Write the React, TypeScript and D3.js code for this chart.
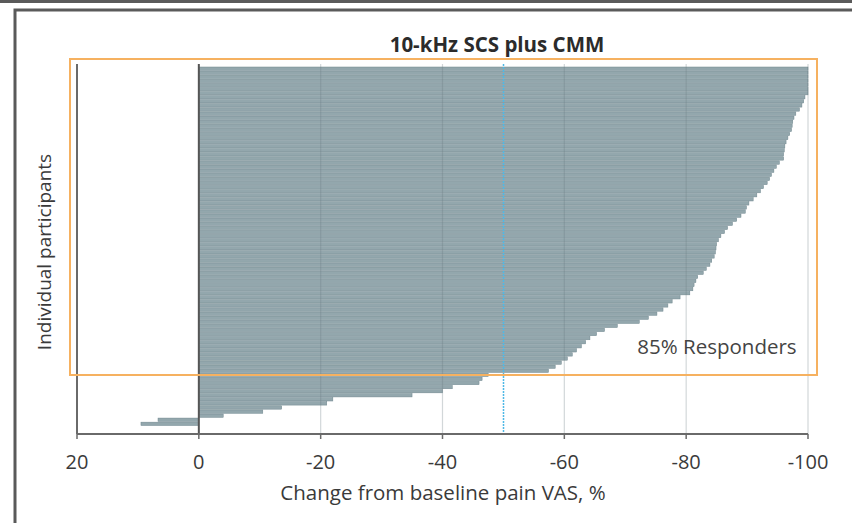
import React from "react";
import * as d3 from "d3";

const responders: number[] = [
  -100, -100, -100, -100, -100, -100, -100, -99.5, -99.3, -99, -98.6, -98, -97.7, -97.5, -97.4,
  -97.3, -97, -96.7, -96.4, -96.2, -96.1, -96, -96, -95.3, -94.8, -94.4, -94, -93.7, -93.3,
  -92.7, -92.2, -91.6, -91, -90.3, -89.9, -89.7, -89, -88.3, -87.6, -86.8, -86.3, -85.7, -85.3,
  -85, -84.9, -84.8, -84.6, -84.2, -83.9, -83.3, -82.8, -81.9, -81.6, -81.3, -81.1, -80.6, -79,
  -77.7, -77, -76.2, -75.2, -73.8, -72.3, -68.7, -66.6, -65.3, -64.2, -63.5, -62.8, -62, -61.3,
  -60.5, -59.5, -58.5, -57.4,
];
const nonResponders: number[] = [
  -47.5, -46.5, -46, -41.6, -40, -35, -22, -21, -13.6, -10.5, -4, 6.7, 9.5,
];
const values: number[] = [...responders, ...nonResponders];
const xTicks: number[] = [20, 0, -20, -40, -60, -80, -100];
const gridTicks: number[] = [-20, -40, -60, -80, -100];
const title = "10-kHz SCS plus CMM";
const xLabel = "Change from baseline pain VAS, %";
const yLabel = "Individual participants";
const responderText = "85% Responders";
const threshold = -50;

const FONT = "'Open Sans', 'Noto Sans', sans-serif";

export default function App() {
  const W = 852;
  const H = 523;
  const x = d3.scaleLinear().domain([20, -100]).range([77, 808]);
  const y = d3
    .scaleBand<number>()
    .domain(d3.range(values.length))
    .range([67, 425.5])
    .paddingInner(0.18);
  const plotTop = 64;
  const axisY = 434;
  const zero = x(0);

  return (
    <svg
      width={W}
      height={H}
      style={{ position: "absolute", left: 0, top: 0, background: "#fff" }}
    >
      {/* outer frames */}
      <rect x={0} y={0} width={W} height={3} fill="#5a5a5a" />
      <rect x={15} y={10} width={W + 20} height={H + 20} fill="none" stroke="#5a5a5a" strokeWidth={3} />

      {/* title */}
      <text x={497} y={52} textAnchor="middle" fontFamily={FONT} fontWeight="bold" fontSize={20.5} fill="#2b2b2b">
        {title}
      </text>

      {/* bars */}
      {values.map((v, i) => {
        const x0 = Math.min(x(v), zero);
        const w = Math.abs(x(v) - zero);
        return (
          <rect
            key={i}
            x={x0}
            y={y(i)}
            width={w}
            height={y.bandwidth()}
            fill="#93a7ad"
            stroke="#6f868d"
            strokeWidth={0.5}
          />
        );
      })}

      {/* gridlines */}
      {gridTicks.map((t) => (
        <line key={t} x1={x(t)} x2={x(t)} y1={plotTop} y2={axisY} stroke="#6a7a80" strokeOpacity={0.3} strokeWidth={1.2} />
      ))}

      {/* threshold line */}
      <line x1={Math.round(x(threshold)) + 0.5} x2={Math.round(x(threshold)) + 0.5} y1={plotTop} y2={axisY} stroke="#4fb9e6" strokeWidth={1.5} strokeDasharray="2,1" />

      {/* left axis + zero line */}
      <line x1={x(20)} x2={x(20)} y1={plotTop} y2={axisY} stroke="#6a6a6a" strokeWidth={2} />
      <line x1={zero} x2={zero} y1={plotTop} y2={axisY} stroke="#555" strokeWidth={2} />

      {/* x axis */}
      <line x1={x(20)} x2={x(-100)} y1={axisY} y2={axisY} stroke="#6a6a6a" strokeWidth={2} />
      {xTicks.map((t) => (
        <g key={t}>
          <line x1={x(t)} x2={x(t)} y1={axisY} y2={axisY + 5} stroke="#6a6a6a" strokeWidth={1.5} />
          <text x={x(t)} y={469} textAnchor="middle" fontFamily={FONT} fontSize={20} fill="#3a3a3a">
            {String(t)}
          </text>
        </g>
      ))}

      {/* responder box */}
      <rect x={70} y={59} width={747} height={316} fill="none" stroke="#f6b160" strokeWidth={2} />
      <text x={717} y={354} textAnchor="middle" fontFamily={FONT} fontSize={20.5} fill="#444">
        {responderText}
      </text>

      {/* axis labels */}
      <text x={443} y={500} textAnchor="middle" fontFamily={FONT} fontSize={20.5} fill="#3a3a3a">
        {xLabel}
      </text>
      <text
        transform={`translate(51, 252) rotate(-90)`}
        textAnchor="middle"
        fontFamily={FONT}
        fontSize={19}
        fill="#3a3a3a"
      >
        {yLabel}
      </text>
    </svg>
  );
}
